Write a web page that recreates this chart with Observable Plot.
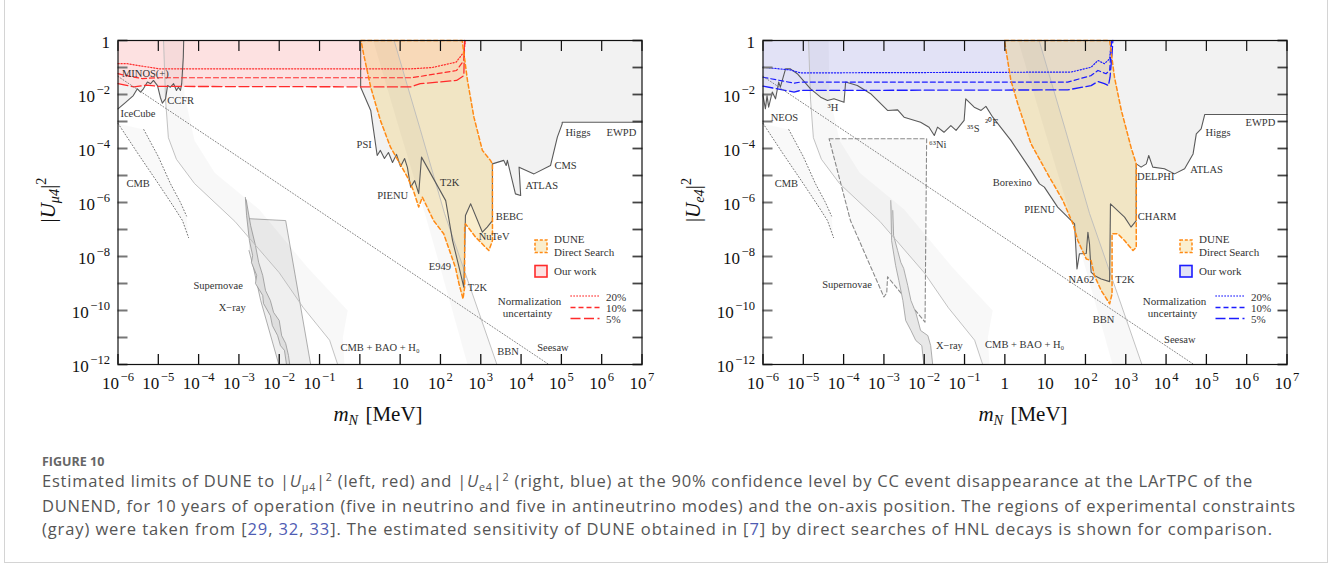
<!DOCTYPE html>
<html><head><meta charset="utf-8">
<script src="https://cdn.jsdelivr.net/npm/d3@7"></script>
<script src="https://cdn.jsdelivr.net/npm/@observablehq/plot@0.6"></script>
<style>
html,body{margin:0;padding:0;background:#fff}
body{width:1333px;height:565px;overflow:hidden;position:relative}
#border{position:absolute;left:4px;top:-1px;width:1324px;height:564px;border:1px solid #d4d4d4;box-sizing:border-box}
.panel{position:absolute;top:0}
#figlab{position:absolute;left:42px;top:453px;font:bold 12.5px "Open Sans",sans-serif;color:#666;white-space:nowrap}
.cl{position:absolute;left:42px;height:24px;line-height:24px;font:16.5px "Open Sans",sans-serif;color:#555;white-space:nowrap}
.cl sub,.cl sup{font-size:0.65em;line-height:0}
.ref{color:#4f5cb3}
</style></head>
<body>
<div id="border"></div>
<div id="left" class="panel" style="left:0px"></div>
<div id="right" class="panel" style="left:645px"></div>
<div id="figlab">FIGURE 10</div>
<div class="cl" id="c1" data-w="1211" style="top:469px">Estimated limits of DUNE to |<i>U</i><sub>μ4</sub>|<sup>2</sup> (left, red) and |<i>U</i><sub>e4</sub>|<sup>2</sup> (right, blue) at the 90% confidence level by CC event disappearance at the LArTPC of the</div>
<div class="cl" id="c2" data-w="1254" style="top:493.5px">DUNEND, for 10 years of operation (five in neutrino and five in antineutrino modes) and the on-axis position. The regions of experimental constraints</div>
<div class="cl" id="c3" data-w="1231" style="top:517px">(gray) were taken from [<span class="ref">29</span>, <span class="ref">32</span>, <span class="ref">33</span>]. The estimated sensitivity of DUNE obtained in [<span class="ref">7</span>] by direct searches of HNL decays is shown for comparison.</div>
<script>
// All coordinates below are [log10(m_N / MeV), log10(|U|^2)]
const xTickExp = [-6,-5,-4,-3,-2,-1,0,1,2,3,4,5,6,7];
const yTickExp = [-12,-11,-10,-9,-8,-7,-6,-5,-4,-3,-2,-1,0];
const yLabelExp = [-12,-10,-8,-6,-4,-2,0];

// shared constraint curves
const seesaw = [[-6,-1.33],[4.69,-12]];
const bbnLine = [[0.85,0],[1.5,-3.3],[2.1,-6.4],[2.75,-9.2],[3.4,-12]];
const bbnBandEdge = [[0.33,0],[1.0,-3.4],[1.65,-6.6],[2.2,-9.5],[2.67,-12]];
const cosmoLine = [[-4.87,0],[-4.82,-2.2],[-4.75,-3.6],[-4.55,-4.4],[-4.1,-5.3],[-3.1,-6.7],[-2.0,-8.6],[-1.4,-9.9],[-0.75,-11.1],[-0.55,-12]];
const cosmoBandEdge = [[-4.37,0],[-4.35,-2.0],[-4.1,-3.7],[-3.6,-4.9],[-2.5,-6.25],[-1.3,-8.4],[-0.3,-10.0],[-0.42,-11.0],[-0.38,-12]];
const cmbEdgeA = [[-6,-3.07],[-5.5,-4.2],[-5.0,-5.3],[-4.6,-6.2],[-4.4,-6.67],[-4.25,-7.3]];
const cmbEdgeB = [[-5.36,-3.3],[-5.0,-4.3],[-4.7,-5.3],[-4.45,-6.0],[-4.3,-6.5]];

// left panel (|U_mu4|^2)
const muExclLow = [[-6,-2.53],[-5.81,-2.29],[-5.62,-2.04],[-5.52,-1.79],[-5.44,-1.91],[-5.37,-1.79],[-5.27,-1.54],[-5.19,-1.60],[-5.12,-1.48],[-5.02,-1.67],[-4.95,-2.10],[-4.90,-2.32],[-4.82,-2.16],[-4.77,-1.67],[-4.70,-1.73],[-4.62,-1.60],[-4.55,-1.85],[-4.50,-1.73],[-4.45,-1.85],[-4.42,-1.60],[-4.38,-0.62],[-4.37,0]];
const muExclHigh = [[0.02,0],[0.02,-1.73],[0.27,-2.59],[0.43,-4.26],[0.51,-4.07],[0.61,-4.37],[0.71,-4.15],[0.81,-4.52],[0.91,-4.22],[1.01,-4.67],[1.11,-4.37],[1.18,-4.70],[1.26,-5.43],[1.36,-5.19],[1.46,-5.67],[1.53,-4.32],[2.13,-5.93],[2.30,-7.41],[2.45,-8.33],[2.58,-9.14],[2.62,-6.48],[2.75,-6.05],[3.04,-7.10],[3.16,-6.91],[3.29,-6.67],[3.29,-4.57],[3.57,-4.44],[3.63,-4.63],[3.66,-4.44],[3.86,-5.68],[3.99,-5.74],[3.95,-4.69],[4.32,-4.94],[4.73,-4.63],[4.90,-3.58],[5.02,-3.09],[5.02,-3.03],[7,-3.03]];
const mu20 = [[-6,-0.86],[-5.76,-0.86],[-5.4,-0.95],[-4.97,-1.05],[1.26,-1.05],[1.8,-1.0],[2.39,-0.80],[2.58,-0.43],[2.62,0]];
const mu10 = [[-6,-1.23],[-5.7,-1.33],[-5.4,-1.41],[-5.0,-1.38],[1.26,-1.38],[1.5,-1.33],[2.4,-1.11],[2.58,-0.74],[2.60,0]];
const mu5 = [[-6,-1.60],[-5.6,-1.72],[-5.3,-1.65],[-5.0,-1.70],[1.26,-1.72],[1.5,-1.60],[2.4,-1.48],[2.58,-1.30],[2.60,0]];
const muDune = [[0.03,0],[2.54,0],[2.67,-1.48],[2.83,-2.84],[3.04,-4.07],[3.24,-4.44],[3.29,-4.57],[3.29,-7.41],[3.20,-7.78],[2.87,-7.28],[2.62,-6.79],[2.60,-6.91],[2.60,-9.14],[2.56,-9.57],[2.46,-9.01],[2.37,-8.40],[2.08,-7.16],[1.83,-6.67],[1.55,-5.80],[1.46,-6.17],[1.33,-5.56],[1.18,-5.06],[0.76,-3.95],[0.51,-2.96],[0.27,-1.73],[0.09,-0.48]];
const muXray = [[-2.75,-6.60],[-1.84,-6.67],[-1.22,-12],[-2.01,-12],[-2.46,-9.63],[-2.64,-8.41],[-2.75,-7.78]];
const muSN = [[-2.84,-5.81],[-2.81,-6.48],[-2.74,-7.41],[-2.66,-7.96],[-2.69,-8.22],[-2.56,-8.70],[-2.59,-9.0],[-2.41,-9.44],[-2.39,-9.74],[-2.22,-10.19],[-2.17,-10.56],[-2.04,-10.93],[-1.97,-11.30],[-1.87,-11.48],[-1.82,-12],[-1.74,-12],[-1.77,-11.67],[-1.84,-11.22],[-1.94,-10.93],[-2.0,-10.37],[-2.14,-10.07],[-2.22,-9.63],[-2.34,-9.26],[-2.41,-8.70],[-2.51,-8.22],[-2.59,-7.59],[-2.71,-6.85],[-2.82,-5.9]];
const muLabels = [["MINOS(+)",-5.90,-1.23],["IceCube",-5.94,-2.69],["CCFR",-4.78,-2.22],["CMB",-5.79,-5.29],["Supernovae",-4.13,-9.07],["X−ray",-3.50,-9.90],["CMB + BAO + H₀",-0.48,-11.36],["PSI",-0.08,-3.85],["PIENU",0.43,-5.74],["T2K",1.99,-5.25],["ATLAS",4.11,-5.37],["CMS",4.83,-4.63],["Higgs",5.10,-3.40],["EWPD",6.12,-3.40],["BEBC",3.37,-6.54],["NuTeV",2.95,-7.26],["E949",1.71,-8.37],["T2K",2.68,-9.17],["BBN",3.41,-11.54],["Seesaw",4.40,-11.36]];

// right panel (|U_e4|^2)
const eExcl = [[-6,-2.04],[-5.94,-2.53],[-5.90,-2.04],[-5.86,-2.47],[-5.77,-1.91],[-5.69,-2.16],[-5.61,-1.54],[-5.57,-1.73],[-5.44,-1.05],[-5.32,-1.05],[-5.15,-1.23],[-4.82,-1.79],[-4.57,-2.10],[-4.40,-2.22],[-4.24,-2.16],[-3.99,-2.29],[-3.95,-1.54],[-3.66,-1.67],[-3.33,-1.97],[-2.91,-2.59],[-2.66,-2.57],[-2.50,-2.84],[-2.09,-3.03],[-1.88,-3.21],[-1.75,-3.52],[-1.67,-3.21],[-1.51,-3.40],[-1.34,-3.15],[-1.21,-3.33],[-1.01,-2.96],[-0.97,-2.16],[-0.76,-2.47],[-0.59,-2.59],[-0.47,-2.44],[-0.30,-2.84],[0.15,-3.70],[0.65,-4.81],[0.86,-5.31],[0.98,-5.43],[1.31,-6.17],[1.73,-6.79],[1.79,-8.46],[1.85,-7.90],[2.02,-7.89],[2.06,-7.10],[2.10,-7.53],[2.14,-8.58],[2.22,-8.70],[2.39,-8.83],[2.60,-8.93],[2.62,-6.05],[2.97,-6.54],[3.13,-6.91],[3.26,-6.67],[3.26,-4.57],[3.38,-4.69],[3.51,-4.57],[3.57,-4.26],[3.67,-4.69],[3.96,-4.75],[4.21,-4.94],[4.46,-4.75],[4.67,-4.20],[4.75,-3.46],[4.87,-3.27],[4.96,-2.74],[7,-2.74]];
const e20 = [[-6,-0.99],[-5.32,-1.09],[-5.07,-1.20],[1.64,-1.17],[2.14,-0.99],[2.31,-0.74],[2.47,-0.86],[2.60,-0.68],[2.64,0]];
const e10 = [[-6,-1.36],[-5.23,-1.58],[-5.07,-1.54],[1.56,-1.54],[2.14,-1.30],[2.31,-1.11],[2.51,-1.23],[2.60,-1.11],[2.64,-0.25],[2.65,0]];
const e5 = [[-6,-1.69],[-5.23,-1.91],[-5.07,-1.85],[1.56,-1.83],[2.14,-1.67],[2.31,-1.52],[2.47,-1.60],[2.57,-1.67],[2.61,-1.36],[2.66,-0.49],[2.68,0]];
const eDune = [[-0.01,0],[2.60,0],[2.72,-1.36],[2.89,-2.59],[3.13,-3.95],[3.26,-4.57],[3.26,-7.66],[3.18,-7.78],[2.97,-7.41],[2.80,-7.16],[2.66,-7.16],[2.66,-9.38],[2.60,-9.75],[2.39,-9.26],[2.22,-8.70],[2.14,-8.15],[2.02,-8.09],[1.81,-7.41],[1.69,-6.79],[1.44,-5.93],[1.06,-4.94],[0.65,-3.83],[0.32,-2.34],[0.15,-1.48]];
const eSN = [[-4.36,-3.64],[-1.94,-3.64],[-1.98,-10.43],[-2.91,-8.75],[-2.93,-9.35],[-3.0,-9.5],[-3.83,-6.67]];
const eXray = [[-2.83,-5.93],[-2.81,-7.41],[-2.71,-8.33],[-2.63,-8.89],[-2.53,-9.63],[-2.46,-10.37],[-2.33,-10.74],[-2.21,-11.11],[-2.06,-11.30],[-2.01,-12],[-1.79,-12],[-1.84,-11.30],[-1.91,-10.93],[-2.09,-10.74],[-2.21,-10.07],[-2.33,-9.63],[-2.41,-9.07],[-2.51,-8.44],[-2.58,-8.22],[-2.66,-7.78],[-2.76,-7.22],[-2.78,-6.30]];
const eLabels = [["NEOS",-5.81,-2.86],["³H",-4.40,-2.49],["⁶³Ni",-1.88,-3.85],["³⁵S",-0.94,-3.27],["²⁰F",-0.49,-3.03],["CMB",-5.71,-5.31],["Borexino",-0.30,-5.25],["PIENU",0.48,-6.27],["DELPHI",3.28,-5.06],["ATLAS",4.60,-4.79],["Higgs",4.98,-3.43],["EWPD",5.97,-3.03],["CHARM",3.30,-6.54],["NA62",1.58,-8.86],["T2K",2.74,-8.84],["BBN",2.18,-10.34],["Seesaw",3.95,-11.09],["Supernovae",-4.53,-9.04],["X−ray",-1.71,-11.30],["CMB + BAO + H₀",-0.49,-11.27]];

const SERIF = '"Liberation Serif", "Times New Roman", serif';
const DUNE_FILL = "rgba(240,200,90,0.3)";
const P = d => d.map(([a, b]) => ({x: 10 ** a, y: 10 ** b}));
const ring = d => [...d, d[0]];
const rev = d => d.slice().reverse();
const fmt = v => { const e = Math.round(Math.log10(v)); return e === 0 ? "1" : e === 1 ? "10" : "10^" + (e < 0 ? "−" + (-e) : String(e)); };

function makePanel(c) {
  const L = (d, o) => Plot.line(P(d), {x: "x", y: "y", ...o});
  const marks = [];
  c.exclPolys.forEach(p => marks.push(L(p, {fill: "#f2f2f2", stroke: "none"})));
  marks.push(L([...c.l5, [-6, 0]], {fill: c.fill, stroke: "none"}));
  marks.push(L([...cmbEdgeA, ...rev(cmbEdgeB)], {fill: "#000", fillOpacity: 0.025, stroke: "none"}));
  c.under(marks, L);
  marks.push(L(c.dune, {fill: DUNE_FILL, stroke: "none"}));
  marks.push(L([...cosmoLine, ...rev(cosmoBandEdge)], {fill: "#000", fillOpacity: 0.028, stroke: "none"}));
  marks.push(L([...bbnBandEdge, ...rev(bbnLine)], {fill: "#000", fillOpacity: 0.028, stroke: "none"}));
  marks.push(L(cosmoLine, {stroke: "#bbb", strokeWidth: 0.9}));
  marks.push(L(bbnLine, {stroke: "#bbb", strokeWidth: 0.9}));
  c.exclLines.forEach(l => marks.push(L(l, {stroke: "#5a5a5a", strokeWidth: 1.1})));
  marks.push(L(c.l20, {stroke: c.line, strokeWidth: 1.2, strokeDasharray: "1.2,1.8"}));
  marks.push(L(c.l10, {stroke: c.line, strokeWidth: 1.2, strokeDasharray: "5,3"}));
  marks.push(L(c.l5, {stroke: c.line, strokeWidth: 1.3, strokeDasharray: "10,3.5"}));
  marks.push(L(ring(c.dune), {stroke: "#ff8a14", strokeWidth: 1.5, strokeDasharray: "4,2.6"}));
  marks.push(L(seesaw, {stroke: "#777", strokeWidth: 0.9, strokeDasharray: "1,2"}));
  marks.push(L(cmbEdgeA, {stroke: "#777", strokeWidth: 1, strokeDasharray: "1,2.2"}));
  marks.push(L(cmbEdgeB, {stroke: "#777", strokeWidth: 1, strokeDasharray: "1,2.2"}));
  marks.push(Plot.text(c.labels, {x: d => 10 ** d[1], y: d => 10 ** d[2], text: d => d[0], textAnchor: "start", fontSize: 10.5, fill: "#333", fontFamily: SERIF}));
  const xt = xTickExp.map(e => 10 ** e), yt = yTickExp.map(e => 10 ** e), yl = yLabelExp.map(e => 10 ** e);
  const blank = () => "";
  marks.push(
    Plot.axisX({anchor: "bottom", ticks: xt, tickSize: 0, tickPadding: 12, tickFormat: fmt, fontSize: 17, fontFamily: SERIF, fill: "#111", label: null}),
    Plot.axisX({anchor: "bottom", ticks: xt, tickSize: 10, dy: -10, tickFormat: blank, label: null, stroke: "#111", strokeWidth: 1.3}),
    Plot.axisX({anchor: "top", ticks: xt, tickSize: 10, dy: 10, tickFormat: blank, label: null, stroke: "#111", strokeWidth: 1.2}),
    Plot.axisY({anchor: "left", ticks: yt, tickSize: 10, dx: 10, tickFormat: blank, label: null, stroke: "#777", strokeWidth: 2}),
    Plot.axisY({anchor: "left", ticks: yl, tickSize: 0, tickPadding: 8, tickFormat: fmt, fontSize: 17, fontFamily: SERIF, fill: "#111", label: null, dy: 2}),
    Plot.axisY({anchor: "right", ticks: yt, tickSize: 10, dx: -10, tickFormat: blank, label: null, stroke: "#444", strokeWidth: 1.8}),
    Plot.frame({stroke: "#111", strokeWidth: 1.2})
  );
  const svg = Plot.plot({
    width: c.width, height: 440,
    marginLeft: 117.5, marginRight: c.width - 641.5, marginTop: 40, marginBottom: 76,
    x: {type: "log", domain: [1e-6, 1e7]},
    y: {type: "log", domain: [1e-12, 1]},
    style: {background: "none", overflow: "visible", maxWidth: "none", fontFamily: SERIF},
    marks
  });
  const s = d3.select(svg);
  s.selectAll('g[aria-label$="tick label"] text').each(function () {
    const t = this.textContent;
    if (t.includes("^")) {
      const [b, e] = t.split("^");
      const el = d3.select(this); el.text(null);
      el.append("tspan").text(b);
      el.append("tspan").attr("dy", "-0.62em").attr("dx", "0.12em").attr("font-size", "0.74em").text(e);
    }
  });
  // axis titles
  const xtl = s.append("text").attr("x", 378).attr("y", 421).attr("text-anchor", "middle")
    .attr("font-family", SERIF).attr("font-size", 21).attr("fill", "#111");
  xtl.append("tspan").attr("font-style", "italic").text("m");
  xtl.append("tspan").attr("font-style", "italic").attr("font-size", "0.68em").attr("dy", "0.3em").text("N");
  xtl.append("tspan").attr("dy", "-0.2em").attr("dx", "0.35em").text("[MeV]");
  const ytl = s.append("text").attr("transform", "translate(55,200) rotate(-90)").attr("text-anchor", "middle")
    .attr("font-family", SERIF).attr("font-size", 21).attr("fill", "#111");
  ytl.append("tspan").text("|");
  ytl.append("tspan").attr("font-style", "italic").text("U");
  ytl.append("tspan").attr("font-style", "italic").attr("font-size", "0.68em").attr("dy", "0.3em").text(c.sub);
  ytl.append("tspan").attr("dy", "-0.21em").text("|");
  ytl.append("tspan").attr("font-size", "0.68em").attr("dy", "-0.65em").text("2");
  // legend
  const g = s.append("g").attr("transform", "translate(117.5,40)").attr("font-family", SERIF)
    .attr("font-size", 11).attr("fill", "#333").attr("text-anchor", "start");
  g.append("rect").attr("x", 417.5).attr("y", 200).attr("width", 12).attr("height", 12.5)
    .attr("fill", DUNE_FILL).attr("stroke", "#ff8a14").attr("stroke-width", 1.5).attr("stroke-dasharray", "3,1.8");
  g.append("text").attr("x", 436.5).attr("y", 199.5).attr("dy", "0.35em").text("DUNE");
  g.append("text").attr("x", 436.5).attr("y", 212.5).attr("dy", "0.35em").text("Direct Search");
  g.append("rect").attr("x", 417.5).attr("y", 225.5).attr("width", 12).attr("height", 11.5)
    .attr("fill", c.fill).attr("stroke", c.line).attr("stroke-width", 1.6);
  g.append("text").attr("x", 436.5).attr("y", 231).attr("dy", "0.35em").text("Our work");
  g.append("text").attr("x", 412).attr("y", 261).attr("dy", "0.35em").attr("text-anchor", "middle").text("Normalization");
  g.append("text").attr("x", 410).attr("y", 273).attr("dy", "0.35em").attr("text-anchor", "middle").text("uncertainty");
  [["1.2,1.8", 256, "20%"], ["5,3", 267.5, "10%"], ["10,3.5", 278.5, "5%"]].forEach(([da, y, t]) => {
    g.append("line").attr("x1", 453).attr("x2", 482).attr("y1", y).attr("y2", y)
      .attr("stroke", c.line).attr("stroke-width", 1.3).attr("stroke-dasharray", da);
    g.append("text").attr("x", 488.5).attr("y", y + 1).attr("dy", "0.35em").text(t);
  });
  return svg;
}

const left = makePanel({
  width: 680, sub: "μ4", fill: "#fde1e1", line: "#ff2b2b",
  exclPolys: [[...muExclLow, [-6, 0]], [...muExclHigh, [7, 0]]],
  exclLines: [muExclLow, muExclHigh],
  l20: mu20, l10: mu10, l5: mu5, dune: muDune, labels: muLabels,
  under: (m, L) => {
    m.push(L(muXray, {fill: "#efefef", stroke: "#9a9a9a", strokeWidth: 0.8}));
    m.push(L(muSN, {fill: "#dedede", stroke: "#8a8a8a", strokeWidth: 0.7}));
  }
});
const right = makePanel({
  width: 687, sub: "e4", fill: "#e2e2f6", line: "#1c1cff",
  exclPolys: [[...eExcl, [7, 0], [-6, 0]]],
  exclLines: [eExcl],
  l20: e20, l10: e10, l5: e5, dune: eDune, labels: eLabels,
  under: (m, L) => {
    m.push(L(eSN, {fill: "#000", fillOpacity: 0.025, stroke: "none"}));
    m.push(L(ring(eSN), {stroke: "#8a8a8a", strokeWidth: 1.1, strokeDasharray: "4,2.5"}));
    m.push(L(eXray, {fill: "#e8e8e8", stroke: "#9a9a9a", strokeWidth: 0.8}));
  }
});
document.getElementById("left").append(left);
document.getElementById("right").append(right);

// fit caption lines to their measured widths in the reference
document.querySelectorAll(".cl").forEach(el => {
  const target = +el.dataset.w;
  const w = el.getBoundingClientRect().width;
  const n = el.textContent.length;
  el.style.letterSpacing = ((target - w) / n).toFixed(3) + "px";
});
</script>
</body></html>
